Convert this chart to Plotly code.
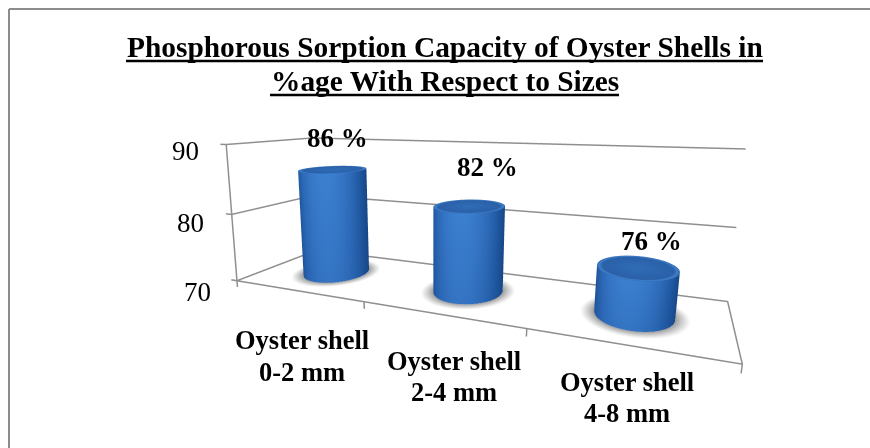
import numpy as np
import plotly.graph_objects as go

categories = ["Oyster shell<br>0-2 mm", "Oyster shell<br>2-4 mm", "Oyster shell<br>4-8 mm"]
values = [86, 82, 76]
value_labels = ["86 %", "82 %", "76 %"]
z_ticks = [70, 80, 90]
title_lines = ["Phosphorous Sorption Capacity of Oyster Shells in", "%age With Respect to Sizes"]

SERIF = "Liberation Serif"
XR = (-0.06, 3.02); YR = (-0.02, 1.02); ZR = (69, 90.3)
GREY = "#8f8f8f"
W, H = 870, 448
# camera and box proportions
ex, ey, ez = 0.7629, -2.0113, 0.4484
c1, c3 = -0.1384, -0.0168
ax, ay, az = 2.0, 0.6079, 0.6321


def screen(x, y, z):
    """Where the scene puts a data point, used only to offset text labels from their anchors."""
    e = np.array([ex, ey, ez]); c = np.array([c1, 0.0, c3])
    fw = c - e; fw = fw / np.linalg.norm(fw)
    r = np.cross(fw, [0, 0, 1.0]); r = r / np.linalg.norm(r)
    u = np.cross(r, fw)
    m = np.array([((x-XR[0])/(XR[1]-XR[0])-.5)*ax, ((y-YR[0])/(YR[1]-YR[0])-.5)*ay,
                  ((z-ZR[0])/(ZR[1]-ZR[0])-.5)*az])
    d = m - e
    f = 1.2071*H
    return W/2 + f*d.dot(r)/d.dot(fw), H/2 - f*d.dot(u)/d.dot(fw)


RX = 0.215
RY = 1.2 * RX * (ax/(XR[1]-XR[0])) / (ay/(YR[1]-YR[0]))
CY = 0.5

fig = go.Figure()
n = len(categories)
theta = np.linspace(0, 2*np.pi, 121)


def frame(xs, ys, zs):
    fig.add_trace(go.Scatter3d(x=xs, y=ys, z=zs, mode="lines", line=dict(color=GREY, width=3),
                               hoverinfo="skip", showlegend=False))


for t in z_ticks:
    frame([-0.05, 0, 0, n], [0, 0, 1, 1], [t]*4)
frame([0, n, n, 0, 0], [0, 0, 1, 1, 0], [70]*5)
frame([0, 0], [0, 0], [69, 90])
for i in range(1, n+1):
    frame([i, i], [0, 0], [69, 70])

body_scale = [[0, "#174788"], [0.3, "#1f569e"], [0.7, "#2f6dbb"], [1, "#3b7fcf"]]
top_scale = [[0, "#2f6db6"], [0.7, "#2b63ab"], [0.86, "#2a60a6"], [0.95, "#3f80cc"], [1, "#2f6ab2"]]
LIGHT = dict(ambient=1, diffuse=0, specular=0, roughness=1, fresnel=0)

for i, v in enumerate(values):
    cx = i + 0.5
    rr = np.linspace(0, 1.36, 24)
    X = cx + np.outer(rr, np.cos(theta))*RX
    Y = CY + np.outer(rr, np.sin(theta))*RY
    C = np.outer(rr, np.ones_like(theta))
    fig.add_trace(go.Surface(x=X, y=Y, z=np.full_like(X, 70.02), surfacecolor=C, cmin=0, cmax=1.36,
                             colorscale=[[0, "#4a4a4a"], [1, "#9a9a9a"]],
                             opacityscale=[[0, 0.85], [0.72, 0.85], [1, 0]],
                             showscale=False, hoverinfo="skip", lighting=LIGHT))
    zz = np.linspace(70, v, 14)
    X = cx + RX*np.outer(np.ones_like(zz), np.cos(theta))
    Y = CY + RY*np.outer(np.ones_like(zz), np.sin(theta))
    Z = np.outer(zz, np.ones_like(theta))
    xm = ((cx-XR[0])/(XR[1]-XR[0])-.5)*ax
    ym = ((CY-YR[0])/(YR[1]-YR[0])-.5)*ay
    view_a = np.arctan2(ey-ym, ex-xm) - 0.15
    shade = np.clip(np.cos(theta - view_a), 0, 1)**1.4
    C = np.outer(np.linspace(0.82, 1.0, len(zz)), shade)
    fig.add_trace(go.Surface(x=X, y=Y, z=Z, surfacecolor=C, cmin=0, cmax=1, colorscale=body_scale,
                             showscale=False, lighting=LIGHT,
                             hovertemplate=f"{categories[i].replace('<br>', ' ')}: {v} %<extra></extra>"))
    rr = np.linspace(0, 1, 20)
    X = cx + np.outer(rr, np.cos(theta))*RX
    Y = CY + np.outer(rr, np.sin(theta))*RY
    C = np.outer(rr, np.ones_like(theta))
    fig.add_trace(go.Surface(x=X, y=Y, z=np.full_like(X, v), surfacecolor=C, cmin=0, cmax=1, colorscale=top_scale,
                             showscale=False, lighting=LIGHT, hoverinfo="skip"))


def label(x, y, z, text, px, py, size):
    qx, qy = screen(x, y, z)
    return dict(x=x, y=y, z=z, text=text, showarrow=False, xanchor="center", yanchor="middle",
                xshift=px-qx, yshift=qy-py, font=dict(family=SERIF, size=size, color="black"))


tick_px = {90: (186, 151), 80: (191, 223), 70: (198, 292)}
cat_px = [(302, 340, 372), (454, 361, 392), (627, 382, 413)]
lab_px = [(338, 138), (487, 167), (651, 241)]
anns = [label(0, 0, t, str(t), *tick_px[t], 27) for t in z_ticks]
for i, c in enumerate(categories):
    l1, l2 = c.split("<br>")
    anns.append(label(i+0.5, 0, 70, f"<b>{l1}</b>", cat_px[i][0], cat_px[i][1], 26.5))
    anns.append(label(i+0.5, 0, 70, f"<b>{l2}</b>", cat_px[i][0], cat_px[i][2], 26.5))
anns += [label(i+0.5, CY, v, f"<b>{value_labels[i]}</b>", *lab_px[i], 27) for i, v in enumerate(values)]

hidden = dict(visible=False, showgrid=False, showbackground=False, zeroline=False, showticklabels=False)
fig.update_layout(
    width=W, height=H, margin=dict(l=0, r=0, t=0, b=0), paper_bgcolor="white", showlegend=False,
    scene=dict(domain=dict(x=[0, 1], y=[0, 1]),
               xaxis=dict(range=XR, **hidden), yaxis=dict(range=YR, **hidden), zaxis=dict(range=ZR, **hidden),
               aspectmode="manual", aspectratio=dict(x=ax, y=ay, z=az),
               camera=dict(eye=dict(x=ex, y=ey, z=ez), center=dict(x=c1, y=0, z=c3), up=dict(x=0, y=0, z=1),
                           projection=dict(type="perspective")),
               annotations=anns),
    annotations=[
        dict(x=444.5/W, y=1-47/H, xref="paper", yref="paper", yanchor="middle", text=f"<b>{title_lines[0]}</b>",
             showarrow=False, font=dict(family=SERIF, size=29.4, color="black")),
        dict(x=444.5/W, y=1-81/H, xref="paper", yref="paper", yanchor="middle", text=f"<b>{title_lines[1]}</b>",
             showarrow=False, font=dict(family=SERIF, size=29.4, color="black")),
    ],
    shapes=[
        dict(type="line", xref="paper", yref="paper", x0=9/W, x1=1, y0=1-9/H, y1=1-9/H, line=dict(color="#8c8c8c", width=2)),
        dict(type="line", xref="paper", yref="paper", x0=9/W, x1=9/W, y0=0, y1=1-9/H, line=dict(color="#8c8c8c", width=2)),
        dict(type="line", xref="paper", yref="paper", x0=126/W, x1=763/W, y0=1-61/H, y1=1-61/H, line=dict(color="black", width=2.5)),
        dict(type="line", xref="paper", yref="paper", x0=270/W, x1=619/W, y0=1-95/H, y1=1-95/H, line=dict(color="black", width=2.5)),
    ],
)
fig.write_html("out.html", config=dict(displayModeBar=False),
               post_script="document.body.style.margin='0';")
